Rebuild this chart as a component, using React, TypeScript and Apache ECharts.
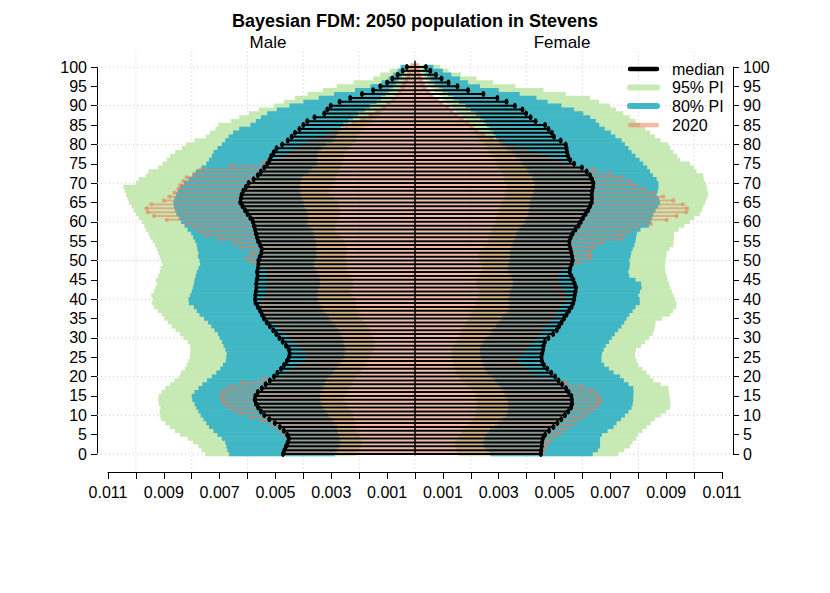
import React, { useEffect, useRef } from 'react';
import * as echarts from 'echarts';

// Values are in units of 1e-5 (proportion of total population)
const ages: number[] = Array.from({ length: 101 }, (_, i) => i);

const maleMedian = [473,468,462,456,452,458,470,484,502,522,
540,552,562,570,574,572,563,549,535,520,
505,493,480,469,459,452,449,452,462,474,
486,497,508,520,531,541,548,555,563,571,
573,572,570,568,569,567,564,566,563,561,
561,556,550,549,555,562,566,570,573,577,
581,590,600,609,618,626,624,621,615,606,
596,578,563,552,540,529,521,515,506,496,
476,456,442,430,414,400,386,360,325,314,
302,270,232,190,150,124,100,81,62,44,
29];

const femaleMedian = [451,452,454,455,458,466,480,496,510,524,
537,549,559,563,562,560,550,541,527,514,
502,488,474,462,455,453,456,459,461,465,
478,495,508,516,525,534,543,552,561,567,
570,572,575,577,572,567,560,554,556,561,
565,563,560,557,553,553,558,565,575,586,
594,602,611,620,627,633,634,633,635,638,
639,634,627,615,598,570,556,548,545,543,
540,522,498,490,478,466,432,414,398,385,
358,328,295,245,190,152,120,95,75,55,
39];

const male2020 = [470,465,458,452,460,475,492,514,548,590,
628,655,675,688,693,693,683,660,620,545,
462,440,420,398,380,376,388,402,418,432,
445,462,478,492,510,525,535,541,545,545,
530,522,520,518,520,522,520,525,560,585,
603,582,590,625,648,700,745,768,790,815,
890,935,958,962,945,900,880,862,848,842,
830,818,790,768,660,540,480,450,425,400,
375,345,312,285,250,222,190,160,135,112,
95,80,66,56,46,40,32,26,20,15,
10];

const female2020 = [459,465,472,482,502,520,540,560,578,600,
618,636,655,662,660,652,633,600,540,470,
425,400,385,362,360,368,382,395,405,420,
432,442,452,465,478,488,496,505,515,528,
535,530,520,512,505,502,505,520,555,590,
627,628,626,640,670,735,746,765,795,845,
902,937,972,975,960,926,890,855,820,790,
770,738,700,640,560,518,478,440,395,350,
310,275,245,222,205,188,168,150,132,118,
95,78,60,48,36,28,22,18,14,10,
8];

const maleLow80 = [287,280,272,269,270,274,278,280,290,300,
311,320,330,336,340,341,338,330,325,322,
310,296,286,275,264,256,252,251,254,257,
262,268,275,286,298,308,318,329,338,346,
348,352,350,346,342,340,345,352,360,364,
360,352,354,352,354,356,360,364,372,386,
385,384,383,390,398,400,405,410,412,414,
412,408,402,382,368,352,350,352,348,335,
320,295,282,276,266,257,238,222,205,180,
162,138,122,105,92,78,68,60,48,40,
30];

const maleHigh80 = [666,672,676,680,692,708,722,738,748,758,
768,776,784,790,798,800,790,776,762,745,
728,712,698,688,678,676,675,680,686,692,
700,706,718,730,742,756,772,782,792,810,
812,806,800,796,792,790,786,782,776,770,
772,778,776,780,782,788,795,802,815,826,
838,846,855,860,864,866,862,856,850,842,
828,812,798,785,765,748,738,728,722,708,
692,680,668,652,630,590,570,552,530,495,
450,400,345,290,215,160,120,95,78,62,
52];

const maleLow95 = [209,200,194,191,196,204,209,210,215,220,
222,230,240,250,257,250,242,236,228,221,
212,200,190,180,172,162,152,148,143,143,
150,156,162,172,185,194,203,209,211,212,
212,224,233,228,222,221,230,240,245,245,
246,248,247,246,246,255,268,280,285,287,
280,272,268,270,274,276,290,308,311,300,
290,286,282,276,270,262,257,257,250,238,
225,212,205,198,185,172,155,140,128,115,
102,88,75,64,52,42,33,28,20,15,
10];

const maleHigh95 = [752,765,776,795,815,842,860,878,895,910,
915,915,912,918,920,918,908,895,878,862,
845,838,825,818,812,806,806,804,806,815,
830,842,858,872,885,898,908,922,935,943,
940,945,935,930,925,928,920,915,912,905,
910,915,920,925,932,940,950,955,965,970,
978,990,1000,1008,1015,1025,1030,1035,1040,1045,
1000,990,965,955,920,905,890,878,860,835,
820,790,750,735,715,705,660,630,595,560,
505,470,430,385,330,280,220,150,125,90,
50];

const femaleLow80 = [269,258,248,245,250,257,268,287,300,315,
329,333,334,334,332,325,318,310,298,287,
275,260,250,243,239,236,233,233,237,245,
258,270,278,290,302,312,325,334,338,340,
334,338,342,348,352,350,344,336,332,336,
340,342,340,344,350,354,360,364,372,385,
394,402,406,408,410,412,416,424,426,428,
430,424,420,408,398,385,376,362,345,330,
312,300,290,282,268,258,248,235,218,200,
182,158,138,118,100,86,70,56,44,38,
30];

const femaleHigh80 = [637,655,663,663,663,670,690,711,722,738,
752,765,776,780,782,782,783,782,765,748,
735,712,695,678,668,668,670,676,684,695,
705,716,728,740,750,758,768,780,790,805,
805,800,806,812,810,790,768,764,768,770,
768,772,775,780,786,790,792,795,808,838,
845,850,854,862,872,878,875,866,870,872,
872,866,852,842,832,818,805,790,776,765,
752,740,718,702,680,660,648,628,603,570,
525,475,435,375,300,233,190,161,130,100,
66];

const femaleLow95 = [155,148,143,145,155,162,170,185,198,210,
215,218,221,222,220,218,212,200,185,170,
158,148,142,138,136,133,130,131,138,148,
156,162,168,178,186,193,200,205,212,218,
225,230,232,228,221,220,228,236,240,238,
232,225,232,245,257,262,266,270,276,282,
288,292,298,302,305,310,316,322,328,330,
328,320,316,312,300,293,285,276,268,260,
251,238,224,215,200,191,180,172,160,145,
132,112,100,88,70,58,46,40,30,22,
15];

const femaleHigh95 = [729,750,770,780,792,800,815,830,845,860,
880,900,914,915,914,912,910,908,880,854,
842,830,815,800,794,790,788,792,810,824,
838,852,856,860,862,885,914,925,935,937,
932,926,920,914,910,905,902,898,896,896,
898,900,902,912,926,926,928,928,945,965,
985,1000,1021,1028,1033,1040,1045,1051,1048,1045,
1040,1035,1033,1009,1000,985,950,940,926,915,
908,880,860,842,825,806,790,770,746,720,
699,660,627,540,460,360,280,221,165,120,
90];

const xLabelValues = [-1100, -900, -700, -500, -300, -100, 100, 300, 500, 700, 900, 1100];
const gridXValues = [-1000, -800, -600, -400, -200, 0, 200, 400, 600, 800, 1000];
const gridAgeValues = [0, 10, 20, 30, 40, 50, 60, 70, 80, 90, 100];

const GREEN = '#c7e9b4';
const TEAL = '#41b6c4';
const SALMON = 'rgba(240,118,82,0.52)';
const FONT = 'Liberation Sans';

function bandSeries(mLo: number[], mHi: number[], fLo: number[], fHi: number[], color: string, z: number) {
  return {
    type: 'custom',
    z,
    silent: true,
    data: ages.map((a, i) => [a, mLo[i], mHi[i], fLo[i], fHi[i]]),
    renderItem: (params: any, api: any) => {
      const a = api.value(0);
      const top = api.coord([0, a + 0.5])[1];
      const bot = api.coord([0, a - 0.5])[1];
      const mx1 = api.coord([-api.value(2), a])[0];
      const mx2 = api.coord([-api.value(1), a])[0];
      const fx1 = api.coord([api.value(3), a])[0];
      const fx2 = api.coord([api.value(4), a])[0];
      const h = bot - top + 0.5;
      return {
        type: 'group',
        children: [
          { type: 'rect', shape: { x: mx1, y: top - 0.25, width: mx2 - mx1, height: h }, style: { fill: color } },
          { type: 'rect', shape: { x: fx1, y: top - 0.25, width: fx2 - fx1, height: h }, style: { fill: color } },
        ],
      };
    },
  };
}

export default function App() {
  const ref = useRef<HTMLDivElement>(null);

  useEffect(() => {
    if (!ref.current) return;
    const chart = echarts.init(ref.current, undefined, { renderer: 'svg' });
    const labelSet = new Set(xLabelValues);

    const option: any = {
      animation: false,
      textStyle: { fontFamily: FONT },
      title: {
        text: 'Bayesian FDM: 2050 population in Stevens',
        left: 'center',
        top: 6,
        textStyle: { fontFamily: FONT, fontSize: 18, fontWeight: 'bold', color: '#000', lineHeight: 20 },
      },
      grid: { left: 108, right: 108, top: 67, bottom: 139 },
      xAxis: {
        type: 'value',
        min: -1100,
        max: 1100,
        interval: 100,
        offset: 18,
        axisLine: { show: true, onZero: false, lineStyle: { color: '#000', width: 1 } },
        axisTick: { show: true, length: 7, lineStyle: { color: '#000' } },
        splitLine: { show: false },
        axisLabel: {
          color: '#000',
          fontSize: 16,
          fontFamily: FONT,
          margin: 12,
          showMinLabel: true,
          showMaxLabel: true,
          formatter: (v: number) => (labelSet.has(Math.round(v)) ? (Math.abs(v) / 100000).toFixed(3) : ''),
        },
      },
      yAxis: [
        {
          type: 'value', min: 0, max: 100, interval: 5, position: 'left', offset: 11,
          axisLine: { show: true, onZero: false, lineStyle: { color: '#000' } },
          axisTick: { show: true, length: 6, lineStyle: { color: '#000' } },
          splitLine: { show: false },
          axisLabel: { color: '#000', fontSize: 16, fontFamily: FONT, margin: 10 },
        },
        {
          type: 'value', min: 0, max: 100, interval: 5, position: 'right', offset: 11,
          axisLine: { show: true, onZero: false, lineStyle: { color: '#000' } },
          axisTick: { show: true, length: 6, lineStyle: { color: '#000' } },
          splitLine: { show: false },
          axisLabel: { color: '#000', fontSize: 16, fontFamily: FONT, margin: 10 },
        },
      ],
      series: [
        {
          type: 'custom', z: 1, silent: true,
          data: gridXValues.map((v) => [v]),
          renderItem: (params: any, api: any) => {
            const cs = params.coordSys;
            const x = api.coord([api.value(0), 0])[0];
            return {
              type: 'line',
              shape: { x1: x, y1: cs.y - 15.5, x2: x, y2: cs.y + cs.height + 18 },
              style: { stroke: '#c8c8c8', lineWidth: 1, lineDash: [1, 3] },
            };
          },
        },
        {
          type: 'custom', z: 1, silent: true,
          data: gridAgeValues.map((v) => [0, v]),
          renderItem: (params: any, api: any) => {
            const cs = params.coordSys;
            const y = api.coord([0, api.value(1)])[1];
            return {
              type: 'line',
              shape: { x1: cs.x - 11, y1: y, x2: cs.x + cs.width + 11, y2: y },
              style: { stroke: '#c8c8c8', lineWidth: 1, lineDash: [1, 3] },
            };
          },
        },
        bandSeries(maleLow95, maleHigh95, femaleLow95, femaleHigh95, GREEN, 2),
        bandSeries(maleLow80, maleHigh80, femaleLow80, femaleHigh80, TEAL, 3),
        {
          type: 'custom', z: 4, silent: true,
          data: ages.map((a, i) => [a, male2020[i], female2020[i]]),
          renderItem: (params: any, api: any) => {
            const a = api.value(0);
            const y = api.coord([0, a + 0.5])[1];
            const xm = api.coord([-api.value(1), a])[0];
            const xf = api.coord([api.value(2), a])[0];
            return {
              type: 'group',
              children: [
                { type: 'line', shape: { x1: xm, y1: y, x2: xf, y2: y }, style: { stroke: SALMON, lineWidth: 2 } },
                { type: 'circle', shape: { cx: xm, cy: y, r: 2.2 }, style: { fill: SALMON } },
                { type: 'circle', shape: { cx: xf, cy: y, r: 2.2 }, style: { fill: SALMON } },
              ],
            };
          },
        },
        {
          type: 'custom', z: 5, silent: true,
          data: ages.map((a, i) => [a, maleMedian[i], femaleMedian[i]]),
          renderItem: (params: any, api: any) => {
            const a = api.value(0);
            const y = api.coord([0, a])[1];
            const xm = api.coord([-api.value(1), a])[0];
            const xf = api.coord([api.value(2), a])[0];
            return {
              type: 'group',
              children: [
                { type: 'line', shape: { x1: xm, y1: y, x2: xf, y2: y }, style: { stroke: '#000', lineWidth: 2 } },
                { type: 'ellipse', shape: { cx: xm, cy: y, rx: 2, ry: 3 }, style: { fill: '#000' } },
                { type: 'ellipse', shape: { cx: xf, cy: y, rx: 2, ry: 3 }, style: { fill: '#000' } },
              ],
            };
          },
        },
        {
          type: 'custom', z: 6, silent: true,
          data: [[0]],
          renderItem: (params: any, api: any) => {
            const p1 = api.coord([api.value(0), -0.3]);
            const p2 = api.coord([api.value(0), 101.6]);
            return {
              type: 'line',
              shape: { x1: p1[0], y1: p1[1], x2: p2[0], y2: p2[1] },
              style: { stroke: '#000', lineWidth: 1.5 },
            };
          },
        },
      ],
      graphic: [
        { type: 'text', x: 268, y: 42, style: { text: 'Male', fontSize: 17, fontFamily: FONT, fill: '#000', align: 'center', verticalAlign: 'middle' } },
        { type: 'text', x: 562, y: 42, style: { text: 'Female', fontSize: 17, fontFamily: FONT, fill: '#000', align: 'center', verticalAlign: 'middle' } },
        { type: 'line', z: 100, shape: { x1: 630, y1: 69, x2: 657, y2: 69 }, style: { stroke: '#000', lineWidth: 4.5, lineCap: 'round' } },
        { type: 'line', z: 100, shape: { x1: 630, y1: 87.5, x2: 657, y2: 87.5 }, style: { stroke: GREEN, lineWidth: 6, lineCap: 'round' } },
        { type: 'line', z: 100, shape: { x1: 630, y1: 106, x2: 657, y2: 106 }, style: { stroke: TEAL, lineWidth: 6, lineCap: 'round' } },
        { type: 'line', z: 100, shape: { x1: 630, y1: 125, x2: 657, y2: 125 }, style: { stroke: SALMON, lineWidth: 4.5, lineCap: 'round' } },
        { type: 'text', z: 100, x: 672, y: 69, style: { text: 'median', fontSize: 16, fontFamily: FONT, fill: '#000', verticalAlign: 'middle' } },
        { type: 'text', z: 100, x: 672, y: 87.5, style: { text: '95% PI', fontSize: 16, fontFamily: FONT, fill: '#000', verticalAlign: 'middle' } },
        { type: 'text', z: 100, x: 672, y: 106, style: { text: '80% PI', fontSize: 16, fontFamily: FONT, fill: '#000', verticalAlign: 'middle' } },
        { type: 'text', z: 100, x: 672, y: 125, style: { text: '2020', fontSize: 16, fontFamily: FONT, fill: '#000', verticalAlign: 'middle' } },
      ],
    };

    chart.setOption(option);
    return () => chart.dispose();
  }, []);

  return (
    <div
      ref={ref}
      style={{ position: 'fixed', left: 0, top: 0, width: 830, height: 593, background: '#fff' }}
    />
  );
}
